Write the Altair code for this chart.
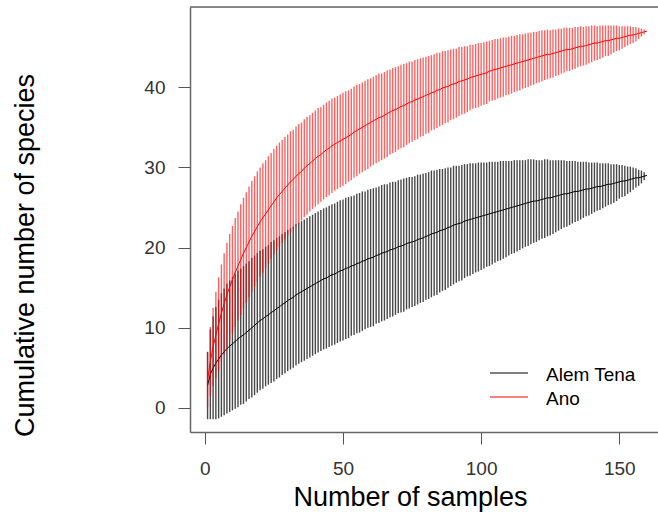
import altair as alt
import pandas as pd

# Species accumulation curves: mean richness and half-width of the error bar
# (2 SD) for each number of pooled samples, 1..160.
SITES = ["Alem Tena", "Ano"]
SITE_COLORS = ["black", "red"]

ALEM_MEAN = [
    2.8, 4.2, 5.0, 5.6, 6.1, 6.6, 7.0, 7.4, 7.7, 8.0,
    8.3, 8.6, 8.9, 9.1, 9.4, 9.7, 10.0, 10.3, 10.6, 10.9,
    11.1, 11.4, 11.6, 11.9, 12.1, 12.4, 12.6, 12.9, 13.1, 13.4,
    13.6, 13.8, 14.1, 14.3, 14.5, 14.7, 14.9, 15.1, 15.3, 15.5,
    15.7, 15.9, 16.1, 16.2, 16.4, 16.6, 16.7, 16.9, 17.1, 17.2,
    17.4, 17.5, 17.7, 17.8, 18.0, 18.1, 18.3, 18.4, 18.6, 18.7,
    18.8, 19.0, 19.1, 19.3, 19.4, 19.5, 19.7, 19.8, 19.9, 20.1,
    20.2, 20.3, 20.5, 20.6, 20.7, 20.8, 21.0, 21.1, 21.2, 21.4,
    21.5, 21.7, 21.8, 21.9, 22.1, 22.2, 22.3, 22.5, 22.6, 22.8,
    22.9, 23.0, 23.1, 23.3, 23.4, 23.5, 23.6, 23.7, 23.8, 23.9,
    24.0, 24.1, 24.2, 24.3, 24.4, 24.5, 24.6, 24.7, 24.8, 24.9,
    25.0, 25.1, 25.2, 25.3, 25.4, 25.5, 25.6, 25.7, 25.8, 25.8,
    25.9, 26.0, 26.1, 26.2, 26.2, 26.3, 26.4, 26.5, 26.6, 26.7,
    26.7, 26.8, 26.9, 27.0, 27.0, 27.1, 27.2, 27.3, 27.3, 27.4,
    27.5, 27.6, 27.6, 27.7, 27.8, 27.9, 27.9, 28.0, 28.1, 28.2,
    28.3, 28.3, 28.4, 28.5, 28.6, 28.7, 28.7, 28.8, 28.9, 29.0,
]
ALEM_HALF = [
    4.2, 5.6, 6.4, 7.0, 7.4, 7.7, 7.9, 8.1, 8.2, 8.3,
    8.4, 8.5, 8.5, 8.6, 8.6, 8.6, 8.7, 8.7, 8.7, 8.7,
    8.7, 8.7, 8.7, 8.8, 8.8, 8.8, 8.8, 8.8, 8.8, 8.8,
    8.8, 8.8, 8.8, 8.8, 8.8, 8.8, 8.8, 8.8, 8.8, 8.8,
    8.8, 8.8, 8.8, 8.8, 8.8, 8.8, 8.8, 8.8, 8.8, 8.8,
    8.8, 8.8, 8.7, 8.7, 8.7, 8.7, 8.7, 8.6, 8.6, 8.6,
    8.6, 8.5, 8.5, 8.5, 8.5, 8.4, 8.4, 8.4, 8.3, 8.3,
    8.3, 8.3, 8.2, 8.2, 8.1, 8.1, 8.1, 8.0, 8.0, 7.9,
    7.9, 7.9, 7.8, 7.8, 7.7, 7.6, 7.6, 7.5, 7.4, 7.4,
    7.3, 7.2, 7.2, 7.1, 7.0, 7.0, 6.9, 6.8, 6.8, 6.7,
    6.6, 6.5, 6.5, 6.4, 6.3, 6.2, 6.2, 6.1, 6.0, 5.9,
    5.8, 5.8, 5.7, 5.6, 5.5, 5.4, 5.4, 5.3, 5.2, 5.1,
    5.0, 4.9, 4.9, 4.8, 4.7, 4.6, 4.5, 4.4, 4.3, 4.2,
    4.1, 4.0, 3.9, 3.8, 3.7, 3.6, 3.5, 3.4, 3.3, 3.2,
    3.1, 3.0, 2.9, 2.8, 2.7, 2.6, 2.5, 2.4, 2.3, 2.1,
    2.0, 1.9, 1.7, 1.6, 1.4, 1.2, 1.0, 0.8, 0.5, 0.0,
]
ANO_MEAN = [
    3.5, 5.8, 7.6, 9.1, 10.5, 11.8, 13.0, 14.1, 15.1, 16.0,
    16.9, 17.7, 18.5, 19.3, 20.0, 20.7, 21.4, 22.0, 22.6, 23.2,
    23.7, 24.2, 24.7, 25.2, 25.7, 26.2, 26.6, 27.0, 27.4, 27.8,
    28.2, 28.5, 28.9, 29.2, 29.5, 29.9, 30.2, 30.5, 30.8, 31.1,
    31.4, 31.6, 31.9, 32.2, 32.4, 32.7, 32.9, 33.1, 33.3, 33.5,
    33.7, 33.9, 34.1, 34.4, 34.6, 34.8, 35.0, 35.2, 35.4, 35.6,
    35.8, 36.0, 36.2, 36.3, 36.5, 36.7, 36.9, 37.1, 37.2, 37.4,
    37.6, 37.7, 37.9, 38.1, 38.2, 38.4, 38.5, 38.7, 38.8, 39.0,
    39.1, 39.3, 39.4, 39.6, 39.7, 39.9, 40.0, 40.1, 40.3, 40.4,
    40.5, 40.7, 40.8, 40.9, 41.0, 41.2, 41.3, 41.4, 41.5, 41.6,
    41.7, 41.8, 42.0, 42.1, 42.2, 42.3, 42.4, 42.5, 42.6, 42.7,
    42.8, 42.9, 43.0, 43.1, 43.2, 43.3, 43.4, 43.5, 43.6, 43.7,
    43.8, 43.9, 44.0, 44.1, 44.1, 44.2, 44.3, 44.4, 44.5, 44.6,
    44.7, 44.7, 44.8, 44.9, 45.0, 45.1, 45.1, 45.2, 45.3, 45.4,
    45.5, 45.5, 45.6, 45.7, 45.8, 45.8, 45.9, 46.0, 46.1, 46.1,
    46.2, 46.3, 46.4, 46.5, 46.5, 46.6, 46.7, 46.8, 46.9, 47.0,
]
ANO_HALF = [
    3.4, 4.3, 4.9, 5.4, 5.8, 6.1, 6.3, 6.5, 6.6, 6.7,
    6.8, 6.8, 6.9, 6.9, 6.9, 6.9, 6.9, 6.9, 6.9, 6.8,
    6.8, 6.7, 6.7, 6.6, 6.6, 6.5, 6.5, 6.4, 6.4, 6.3,
    6.3, 6.2, 6.2, 6.2, 6.1, 6.1, 6.1, 6.0, 6.0, 6.0,
    6.0, 5.9, 5.9, 5.9, 5.9, 5.9, 5.8, 5.8, 5.8, 5.8,
    5.8, 5.7, 5.7, 5.7, 5.7, 5.6, 5.6, 5.6, 5.6, 5.5,
    5.5, 5.5, 5.5, 5.4, 5.4, 5.4, 5.3, 5.3, 5.3, 5.2,
    5.2, 5.2, 5.1, 5.1, 5.0, 5.0, 5.0, 4.9, 4.9, 4.8,
    4.8, 4.7, 4.7, 4.7, 4.6, 4.6, 4.5, 4.5, 4.4, 4.4,
    4.3, 4.3, 4.2, 4.2, 4.1, 4.1, 4.0, 4.0, 4.0, 3.9,
    3.9, 3.9, 3.8, 3.8, 3.8, 3.7, 3.7, 3.7, 3.6, 3.6,
    3.6, 3.5, 3.5, 3.5, 3.4, 3.4, 3.4, 3.3, 3.3, 3.2,
    3.2, 3.2, 3.1, 3.1, 3.0, 3.0, 2.9, 2.9, 2.8, 2.8,
    2.7, 2.7, 2.6, 2.6, 2.5, 2.5, 2.4, 2.4, 2.3, 2.3,
    2.2, 2.1, 2.1, 2.0, 1.9, 1.9, 1.8, 1.7, 1.6, 1.5,
    1.4, 1.3, 1.2, 1.1, 1.0, 0.9, 0.7, 0.5, 0.3, 0.0,
]

X_TICKS = [0, 50, 100, 150]
Y_TICKS = [0, 10, 20, 30, 40]

FONT = "Liberation Sans"
W, H = 468, 425


def site_frame(name, means, halves):
    return pd.DataFrame({
        "site": name,
        "samples": list(range(1, len(means) + 1)),
        "richness": means,
        "lower": [m - h for m, h in zip(means, halves)],
        "upper": [m + h for m, h in zip(means, halves)],
    })


x_scale = alt.Scale(domain=[-5.36, 164], nice=False, zero=False)
y_scale = alt.Scale(domain=[-3, 50], nice=False, zero=False)

x_axis = alt.Axis(
    values=X_TICKS, title="Number of samples", grid=False,
    domainColor="#666", domainWidth=1.5, tickColor="#555", tickSize=12,
    labelFontSize=19, labelColor="#333", labelPadding=15, labelFont=FONT,
    titleFontSize=27, titleFontWeight="normal", titleColor="black", titleFont=FONT,
    titleX=220, titleY=73, titleBaseline="alphabetic", titleAlign="center",
)
y_axis = alt.Axis(
    values=Y_TICKS, title="Cumulative number of species", grid=False,
    domainColor="#666", domainWidth=1.5, tickColor="#555", tickSize=12,
    labelFontSize=19, labelColor="#333", labelPadding=13, labelFont=FONT,
    titleFontSize=27, titleFontWeight="normal", titleColor="black", titleFont=FONT,
    titleAngle=-90, titleX=-157, titleY=248, titleBaseline="alphabetic",
    titleAlign="center",
)

X_ENC = alt.X("samples:Q", scale=x_scale, axis=x_axis)


def site_layers(df, color, bar_opacity):
    bars = alt.Chart(df).mark_rule(
        color=color, strokeWidth=1.4, strokeOpacity=bar_opacity
    ).encode(
        x=X_ENC,
        y=alt.Y("lower:Q", scale=y_scale, axis=y_axis),
        y2="upper:Q",
    )
    line = alt.Chart(df).mark_line(color=color, strokeWidth=1.0).encode(
        x=X_ENC,
        y=alt.Y("richness:Q", scale=y_scale, axis=y_axis),
    )
    return [bars, line]


alem = site_frame(SITES[0], ALEM_MEAN, ALEM_HALF)
ano = site_frame(SITES[1], ANO_MEAN, ANO_HALF)

layers = site_layers(alem, SITE_COLORS[0], 0.72) + site_layers(ano, SITE_COLORS[1], 0.62)

# top edge of the plot box
top_edge = alt.Chart(pd.DataFrame({"k": [0]})).mark_rule(
    color="#666", strokeWidth=1.5
).encode(x=alt.value(0), x2=alt.value(W), y=alt.value(0))

# legend: short line plus site name for each series, one row per site
legend_rows = []
for i, (name, col) in enumerate(zip(SITES, SITE_COLORS)):
    row = pd.DataFrame({"site": [name]})
    y_px = 366 + 24 * i
    legend_rows.append(
        alt.Chart(row).mark_rule(color=col, strokeWidth=1.2).encode(
            x=alt.value(300), x2=alt.value(338), y=alt.value(y_px)
        )
    )
    legend_rows.append(
        alt.Chart(row).mark_text(
            align="left", baseline="middle", fontSize=19, font=FONT, color="black"
        ).encode(x=alt.value(356), y=alt.value(y_px + 2), text="site:N")
    )

chart = alt.layer(*layers, top_edge, *legend_rows).properties(
    width=W, height=H,
    autosize=alt.AutoSizeParams(type="none"),
    padding={"left": 190, "top": 7, "right": 0, "bottom": 80},
).configure_view(stroke=None).configure(background="white")

chart.save("out.html", embed_options={"renderer": "svg", "actions": False})
